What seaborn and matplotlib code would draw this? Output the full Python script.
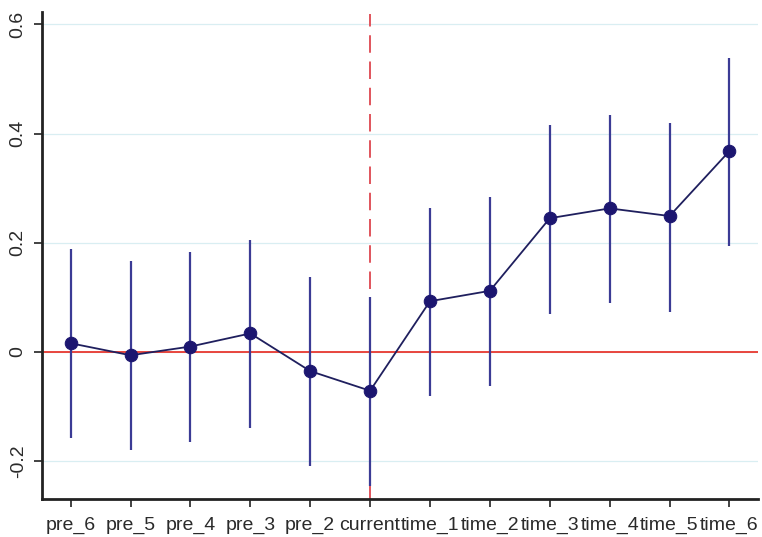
import numpy as np
import pandas as pd
import matplotlib
matplotlib.use("Agg")
import matplotlib.pyplot as plt
import seaborn as sns

# event-study coefficients and 95% CI
periods = ["pre_6", "pre_5", "pre_4", "pre_3", "pre_2", "current",
           "time_1", "time_2", "time_3", "time_4", "time_5", "time_6"]
coef = [0.016, -0.006, 0.010, 0.034, -0.035, -0.071,
        0.093, 0.112, 0.245, 0.263, 0.249, 0.368]
ci_low = [-0.157, -0.180, -0.164, -0.140, -0.209, -0.246,
          -0.081, -0.063, 0.070, 0.089, 0.074, 0.194]
ci_high = [0.188, 0.166, 0.183, 0.206, 0.137, 0.101,
           0.264, 0.283, 0.415, 0.434, 0.420, 0.539]
y_ticks = [-0.2, 0, 0.2, 0.4, 0.6]
y_tick_labels = ["-0.2", "0", "0.2", "0.4", "0.6"]
event_period = "current"

df = pd.DataFrame({"period": periods, "coef": coef,
                   "lo": ci_low, "hi": ci_high})
df["pos"] = np.arange(len(df))

sns.set_style("white")
plt.rcParams["font.family"] = ["Liberation Sans", "DejaVu Sans"]

fig = plt.figure(figsize=(7.62, 5.37), dpi=100)
ax = fig.add_axes([0.055, 0.071, 0.94, 0.907])

# light grid at the y ticks
for yt in y_ticks:
    ax.axhline(yt, color="#d9eef2", linewidth=0.9, zorder=0)

ax.axhline(0, color="#e8382f", linewidth=1.3, zorder=1)

# dashed marker for the event period
event_pos = df.loc[df["period"] == event_period, "pos"].iloc[0]
ax.axvline(event_pos, ymax=0.995, color="#e0545c", linewidth=1.4,
           linestyle=(0, (9, 4.5)), zorder=1)

ax.vlines(df["pos"], df["lo"], df["hi"], color="#3b3b95",
          linewidth=1.6, zorder=2)

sns.lineplot(data=df, x="pos", y="coef", ax=ax, color="#1f1f5e",
             linewidth=1.3, marker="o", markersize=9,
             markerfacecolor="#1c1670", markeredgecolor="#1c1670",
             zorder=3)

ax.set_xlim(-0.48, 11.48)
ax.set_ylim(-0.269, 0.623)
ax.set_xticks(df["pos"])
ax.set_xticklabels(periods, fontsize=14, color="#2a2a2a")
ax.set_yticks(y_ticks)
ax.set_yticklabels(y_tick_labels, fontsize=14, rotation=90, va="center",
                   color="#2a2a2a")
ax.set_xlabel("")
ax.set_ylabel("")

for side in ["top", "right"]:
    ax.spines[side].set_visible(False)
for side in ["left", "bottom"]:
    ax.spines[side].set_linewidth(2.0)
    ax.spines[side].set_color("#222222")
ax.tick_params(axis="both", direction="out", length=6, width=1.2,
               color="#222222", left=True, bottom=True)
ax.tick_params(axis="x", pad=7)
ax.tick_params(axis="y", pad=5)

fig.savefig("out.png", dpi=100)
plt.close(fig)
